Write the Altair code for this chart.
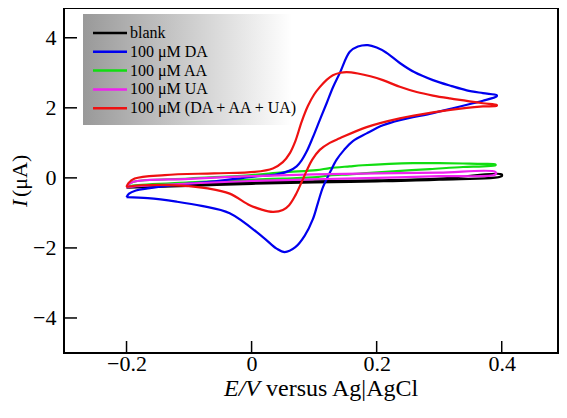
import altair as alt
import pandas as pd

# ---------------- data ----------------
series = ["blank", "100 μM DA", "100 μM AA", "100 μM UA", "100 μM (DA + AA + UA)"]
colors = ["#000000", "#0000ee", "#11dd11", "#ee22ee", "#ee1111"]

blank_x = [-0.2, -0.1, 0.0, 0.1, 0.2, 0.3, 0.4, 0.4, 0.3, 0.2, 0.1, 0.0, -0.1, -0.2]
blank_y = [-0.25, -0.18, -0.13, -0.1, -0.07, -0.02, 0.1, 0.05, -0.05, -0.1, -0.13, -0.17, -0.23, -0.28]

da_x = [-0.2, -0.196, -0.185, -0.166, -0.12, -0.059, 0.0, 0.04, 0.06, 0.072, 0.08, 0.088,
        0.098, 0.109, 0.12, 0.13, 0.141, 0.157, 0.17, 0.186, 0.2, 0.215, 0.237, 0.26, 0.29,
        0.32, 0.344, 0.37, 0.392,
        0.392, 0.37, 0.354, 0.32, 0.29, 0.237, 0.21, 0.184, 0.162, 0.148, 0.136, 0.126, 0.114,
        0.106, 0.098, 0.085, 0.07, 0.053, 0.04, 0.018, -0.035, -0.08, -0.12, -0.166, -0.2]
da_y = [-0.55, -0.45, -0.36, -0.3, -0.2, -0.1, 0.03, 0.1, 0.2, 0.33, 0.5, 0.75,
        1.16, 1.65, 2.13, 2.58, 2.99, 3.6, 3.75, 3.79, 3.72, 3.58, 3.28, 3.02, 2.79,
        2.62, 2.5, 2.42, 2.36,
        2.33, 2.2, 2.13, 1.98, 1.85, 1.65, 1.5, 1.27, 1.05, 0.8, 0.52, 0.18, -0.27,
        -0.72, -1.18, -1.65, -1.98, -2.12, -2.02, -1.69, -1.01, -0.8, -0.68, -0.58, -0.55]

aa_x = [-0.2, -0.19, -0.1, 0.0, 0.05, 0.104, 0.125, 0.157, 0.178, 0.22, 0.258, 0.3, 0.338, 0.37, 0.39,
        0.39, 0.37, 0.338, 0.285, 0.22, 0.178, 0.157, 0.125, 0.104, 0.05, 0.0, -0.1, -0.19, -0.2]
aa_y = [-0.25, -0.12, -0.02, 0.08, 0.16, 0.22, 0.28, 0.33, 0.36, 0.4, 0.42, 0.42, 0.41, 0.4, 0.38,
        0.36, 0.33, 0.31, 0.25, 0.18, 0.13, 0.1, 0.07, 0.02, -0.02, -0.05, -0.13, -0.22, -0.25]

ua_x = [-0.2, -0.19, -0.1, 0.0, 0.1, 0.2, 0.3, 0.39, 0.39, 0.3, 0.2, 0.1, 0.0, -0.1, -0.19, -0.2]
ua_y = [-0.25, -0.12, -0.03, 0.05, 0.1, 0.13, 0.15, 0.17, 0.1, 0.05, 0.0, -0.04, -0.09, -0.16, -0.25, -0.27]

mix_x = [-0.2, -0.197, -0.187, -0.139, -0.06, 0.005, 0.034, 0.05, 0.061, 0.07, 0.08, 0.09,
         0.1, 0.109, 0.12, 0.13, 0.142, 0.152, 0.17, 0.19, 0.21, 0.237, 0.264, 0.29,
         0.317, 0.344, 0.37, 0.392,
         0.392, 0.37, 0.344, 0.29, 0.237, 0.184, 0.141, 0.125, 0.109, 0.097, 0.088, 0.08,
         0.07, 0.06, 0.05, 0.034, 0.015, -0.003, -0.035, -0.07, -0.112, -0.176, -0.2]
mix_y = [-0.26, -0.15, -0.02, 0.08, 0.13, 0.17, 0.27, 0.45, 0.7, 1.05, 1.6, 2.05,
         2.38, 2.59, 2.8, 2.93, 3.0, 3.02, 2.98, 2.9, 2.79, 2.6, 2.45, 2.35,
         2.27, 2.2, 2.13, 2.08,
         2.06, 2.04, 2.0, 1.87, 1.7, 1.45, 1.13, 1.0, 0.8, 0.52, 0.2, -0.12,
         -0.5, -0.78, -0.92, -0.97, -0.9, -0.78, -0.45, -0.3, -0.22, -0.21, -0.26]

x_ticks = [-0.2, 0.0, 0.2, 0.4]
y_ticks = [-4, -2, 0, 2, 4]

# ---------------- chart ----------------
W, H = 494, 345
FONT = "Liberation Serif"
xscale = alt.Scale(domain=[-0.3, 0.49], nice=False, zero=False)
yscale = alt.Scale(domain=[-5, 4.85], nice=False, zero=False)
xaxis = alt.Axis(values=x_ticks, format="~g", tickSize=0, domain=False, grid=False,
                 labelFont=FONT, labelFontSize=22, labelColor="black", labelPadding=0, title=None)
yaxis = alt.Axis(values=y_ticks, format="d", tickSize=0, domain=False, grid=False,
                 labelFont=FONT, labelFontSize=22, labelColor="black", labelPadding=8, title=None)


def X(f):
    return alt.X(f, type="quantitative", scale=xscale, axis=xaxis)


def Y(f):
    return alt.Y(f, type="quantitative", scale=yscale, axis=yaxis)


one = pd.DataFrame({"a": [0]})
layers = []

# legend background with gradient
layers.append(
    alt.Chart(one).mark_rect(
        color=alt.Gradient(gradient="linear",
                           stops=[alt.GradientStop(color="#999999", offset=0),
                                  alt.GradientStop(color="#ffffff", offset=1)],
                           x1=0, x2=1, y1=0, y2=0)
    ).encode(x=alt.value(19), x2=alt.value(228), y=alt.value(6), y2=alt.value(117))
)

data_map = {
    "blank": (blank_x, blank_y),
    "100 μM DA": (da_x, da_y),
    "100 μM AA": (aa_x, aa_y),
    "100 μM UA": (ua_x, ua_y),
    "100 μM (DA + AA + UA)": (mix_x, mix_y),
}
color_of = dict(zip(series, colors))
draw_order = ["blank", "100 μM AA", "100 μM DA", "100 μM UA", "100 μM (DA + AA + UA)"]
for name in draw_order:
    xs, ys = data_map[name]
    df = pd.DataFrame({"E": xs, "I": ys, "i": list(range(len(xs)))})
    layers.append(
        alt.Chart(df).mark_line(color=color_of[name], strokeWidth=2.2, strokeJoin="round",
                                interpolate="catmull-rom")
        .encode(x=X("E"), y=Y("I"), order=alt.Order("i:Q"))
    )

# inward ticks
layers.append(
    alt.Chart(pd.DataFrame({"v": x_ticks})).mark_rule(color="black", strokeWidth=1.5)
    .encode(x=X("v"), y=alt.value(H - 12), y2=alt.value(H))
)
layers.append(
    alt.Chart(pd.DataFrame({"v": y_ticks})).mark_rule(color="black", strokeWidth=1.5)
    .encode(y=Y("v"), x=alt.value(0), x2=alt.value(13))
)

# legend entries
for k, name in enumerate(series):
    ly = 25 + 18.8 * k
    layers.append(
        alt.Chart(one).mark_rule(color=color_of[name], strokeWidth=2.5)
        .encode(x=alt.value(29), x2=alt.value(63), y=alt.value(ly))
    )
    layers.append(
        alt.Chart(one).mark_text(text=name, align="left", baseline="middle", font=FONT,
                                 fontSize=16, color="black")
        .encode(x=alt.value(66), y=alt.value(ly))
    )

# axis titles
layers.append(
    alt.Chart(one).mark_text(text="E/V", align="left", baseline="alphabetic", font=FONT,
                             fontSize=24, fontStyle="italic", color="black")
    .encode(x=alt.value(160), y=alt.value(388))
)
layers.append(
    alt.Chart(one).mark_text(text="versus Ag|AgCl", align="left", baseline="alphabetic", font=FONT,
                             fontSize=24, color="black")
    .encode(x=alt.value(202), y=alt.value(388))
)
layers.append(
    alt.Chart(one).mark_text(text="I", align="left", baseline="middle", font=FONT, angle=270,
                             fontSize=22, fontStyle="italic", color="black")
    .encode(x=alt.value(-44), y=alt.value(199))
)
layers.append(
    alt.Chart(one).mark_text(text="(μA)", align="left", baseline="middle", font=FONT, angle=270,
                             fontSize=22, color="black")
    .encode(x=alt.value(-44), y=alt.value(189))
)

chart = alt.layer(*layers).properties(
    width=W, height=H,
    autosize=alt.AutoSizeParams(type="none"),
    padding={"left": 56, "top": 0, "right": 1, "bottom": 60},
).configure_view(stroke="black", strokeWidth=2)

chart.save("out.html", embed_options={"renderer": "svg", "actions": False})
